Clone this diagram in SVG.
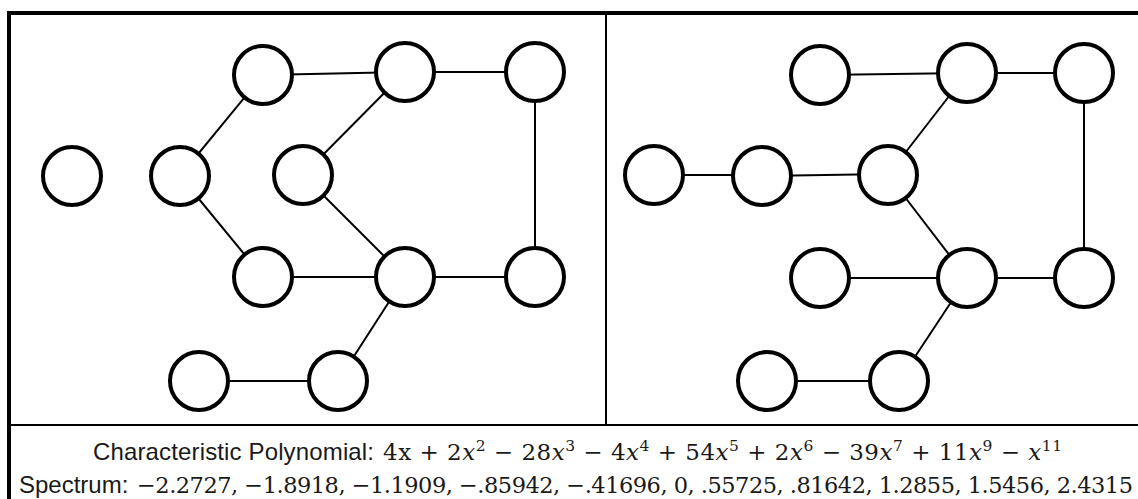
<svg xmlns="http://www.w3.org/2000/svg" width="1138" height="499" viewBox="0 0 1138 499">
<style>
.node{fill:#fff;stroke:#000;stroke-width:4}
.edge{stroke:#000;stroke-width:2;fill:none}
.frame{stroke:#000;fill:none}
.lbl{font-family:"Liberation Sans",Arial,sans-serif;font-size:24px;fill:#1a1a1a}
.math{font-family:"DejaVu Serif","Liberation Serif",serif;font-size:22.5px;fill:#1a1a1a}
.m1{font-size:23px}
.it{font-style:italic}
.sup{font-size:15.5px}
</style>
<rect width="1138" height="499" fill="#fff"/>
<g id="frame">
<line class="frame" x1="7" y1="13" x2="1138" y2="13" stroke-width="4"/>
<line class="frame" x1="9" y1="11" x2="9" y2="499" stroke-width="4"/>
<line class="frame" x1="9" y1="425" x2="1138" y2="425" stroke-width="2"/>
<line class="frame" x1="606" y1="13" x2="606" y2="425" stroke-width="2"/>
</g>
<g id="connectors">
<line class="edge" x1="263" y1="75" x2="405" y2="72"/>
<line class="edge" x1="405" y1="72" x2="535" y2="72"/>
<line class="edge" x1="263" y1="75" x2="180" y2="176"/>
<line class="edge" x1="405" y1="72" x2="303" y2="175"/>
<line class="edge" x1="180" y1="176" x2="263" y2="277"/>
<line class="edge" x1="303" y1="175" x2="405" y2="277"/>
<line class="edge" x1="263" y1="277" x2="405" y2="277"/>
<line class="edge" x1="405" y1="277" x2="535" y2="277"/>
<line class="edge" x1="535" y1="72" x2="535" y2="277"/>
<line class="edge" x1="405" y1="277" x2="338" y2="381"/>
<line class="edge" x1="199" y1="381" x2="338" y2="381"/>
<line class="edge" x1="820" y1="75" x2="967" y2="73"/>
<line class="edge" x1="967" y1="73" x2="1084" y2="73"/>
<line class="edge" x1="967" y1="73" x2="888" y2="175"/>
<line class="edge" x1="654" y1="175" x2="762" y2="175"/>
<line class="edge" x1="762" y1="176" x2="888" y2="174"/>
<line class="edge" x1="888" y1="175" x2="967" y2="278"/>
<line class="edge" x1="820" y1="278" x2="967" y2="278"/>
<line class="edge" x1="967" y1="278" x2="1084" y2="278"/>
<line class="edge" x1="1084" y1="73" x2="1084" y2="278"/>
<line class="edge" x1="967" y1="278" x2="899" y2="381"/>
<line class="edge" x1="767" y1="381" x2="899" y2="381"/>
</g>
<g id="L0"><circle class="node" cx="72" cy="176" r="29"/></g>
<g id="L1"><circle class="node" cx="263" cy="75" r="29"/></g>
<g id="L2"><circle class="node" cx="405" cy="72" r="29"/></g>
<g id="L3"><circle class="node" cx="535" cy="72" r="29"/></g>
<g id="L4"><circle class="node" cx="180" cy="176" r="29"/></g>
<g id="L5"><circle class="node" cx="303" cy="175" r="29"/></g>
<g id="L6"><circle class="node" cx="263" cy="277" r="29"/></g>
<g id="L7"><circle class="node" cx="405" cy="277" r="29"/></g>
<g id="L8"><circle class="node" cx="535" cy="277" r="29"/></g>
<g id="L9"><circle class="node" cx="199" cy="381" r="29"/></g>
<g id="L10"><circle class="node" cx="338" cy="381" r="29"/></g>
<g id="R1"><circle class="node" cx="820" cy="75" r="29"/></g>
<g id="R2"><circle class="node" cx="967" cy="73" r="29"/></g>
<g id="R3"><circle class="node" cx="1084" cy="73" r="29"/></g>
<g id="R4"><circle class="node" cx="654" cy="175" r="29"/></g>
<g id="R5"><circle class="node" cx="762" cy="176" r="29"/></g>
<g id="R6"><circle class="node" cx="888" cy="175" r="29"/></g>
<g id="R7"><circle class="node" cx="820" cy="278" r="29"/></g>
<g id="R8"><circle class="node" cx="967" cy="278" r="29"/></g>
<g id="R9"><circle class="node" cx="1084" cy="278" r="29"/></g>
<g id="R10"><circle class="node" cx="767" cy="381" r="29"/></g>
<g id="R11"><circle class="node" cx="899" cy="381" r="29"/></g>
<g id="caption">
<text class="lbl" x="93" y="460" textLength="281" lengthAdjust="spacing">Characteristic Polynomial:</text>
<text class="math m1" x="383" y="460" textLength="679" lengthAdjust="spacing">4x + 2<tspan class="it">x</tspan><tspan class="sup" dy="-9">2</tspan><tspan dy="9"> − 28</tspan><tspan class="it">x</tspan><tspan class="sup" dy="-9">3</tspan><tspan dy="9"> − 4</tspan><tspan class="it">x</tspan><tspan class="sup" dy="-9">4</tspan><tspan dy="9"> + 54</tspan><tspan class="it">x</tspan><tspan class="sup" dy="-9">5</tspan><tspan dy="9"> + 2</tspan><tspan class="it">x</tspan><tspan class="sup" dy="-9">6</tspan><tspan dy="9"> − 39</tspan><tspan class="it">x</tspan><tspan class="sup" dy="-9">7</tspan><tspan dy="9"> + 11</tspan><tspan class="it">x</tspan><tspan class="sup" dy="-9">9</tspan><tspan dy="9"> − </tspan><tspan class="it">x</tspan><tspan class="sup" dy="-9">11</tspan></text>
<text class="lbl" x="19" y="493">Spectrum:</text>
<text class="math" x="137" y="493" textLength="996" lengthAdjust="spacing">−2.2727, −1.8918, −1.1909, −.85942, −.41696, 0, .55725, .81642, 1.2855, 1.5456, 2.4315</text>
</g>
</svg>
